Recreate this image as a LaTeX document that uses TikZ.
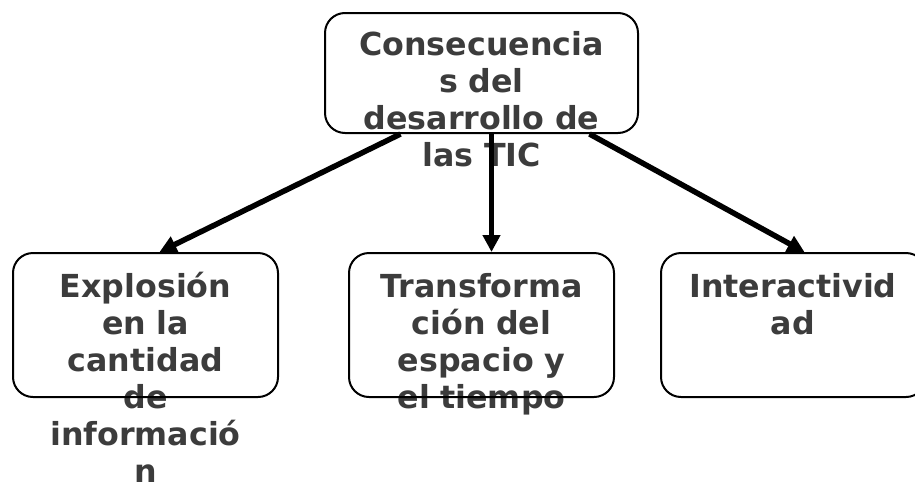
\documentclass[tikz,border=0pt]{standalone}
\usepackage{fontspec}
\setmainfont{DejaVu Sans}
\usetikzlibrary{arrows.meta}
\definecolor{txtgray}{HTML}{3C3C3C}
\tikzset{
	box/.style={draw=black, line width=2pt, rounded corners=20pt, minimum width=265pt, minimum height=144pt, inner sep=0pt},
	lbl/.style={text=txtgray, font=\fontsize{31.7}{37}\selectfont\bfseries, align=center, text width=300pt, anchor=base, inner sep=0pt},
	arr/.style={line width=5.5pt, -{Triangle[length=17pt,width=17pt]}},
}

\begin{document}
\begin{tikzpicture}[x=1pt,y=-1pt]
	\clip (0,0) rectangle (915,485);
	
	% texts first, the box lines run over them
	\node[lbl] (cons-t) at (481.5,55) {Consecuencia\\s del\\desarrollo de\\las TIC};
	\node[lbl] (expl-t) at (145.5,297) {Explosión\\en la\\cantidad\\de\\informació\\n};
	\node[lbl] (trans-t) at (481.5,297) {Transforma\\ción del\\espacio y\\el tiempo};
	\node[lbl] (inter-t) at (793,297) {Interactivid\\ad};
	
	% boxes
	\node[box, minimum width=313pt, minimum height=120pt] (cons) at (481.5,73) {};
	\node[box] (expl) at (145.5,325) {};
	\node[box] (trans) at (481.5,325) {};
	\node[box] (inter) at (793.5,325) {};
	
	% arrows
	\draw[arr] ([xshift=-81pt]cons.south) -- ([xshift=14pt]expl.north);
	\draw[arr] ([xshift=10pt]cons.south) -- ([xshift=10pt]trans.north);
	\draw[arr] ([xshift=108pt]cons.south) -- ([xshift=11pt]inter.north);
	
\end{tikzpicture}
\end{document}
